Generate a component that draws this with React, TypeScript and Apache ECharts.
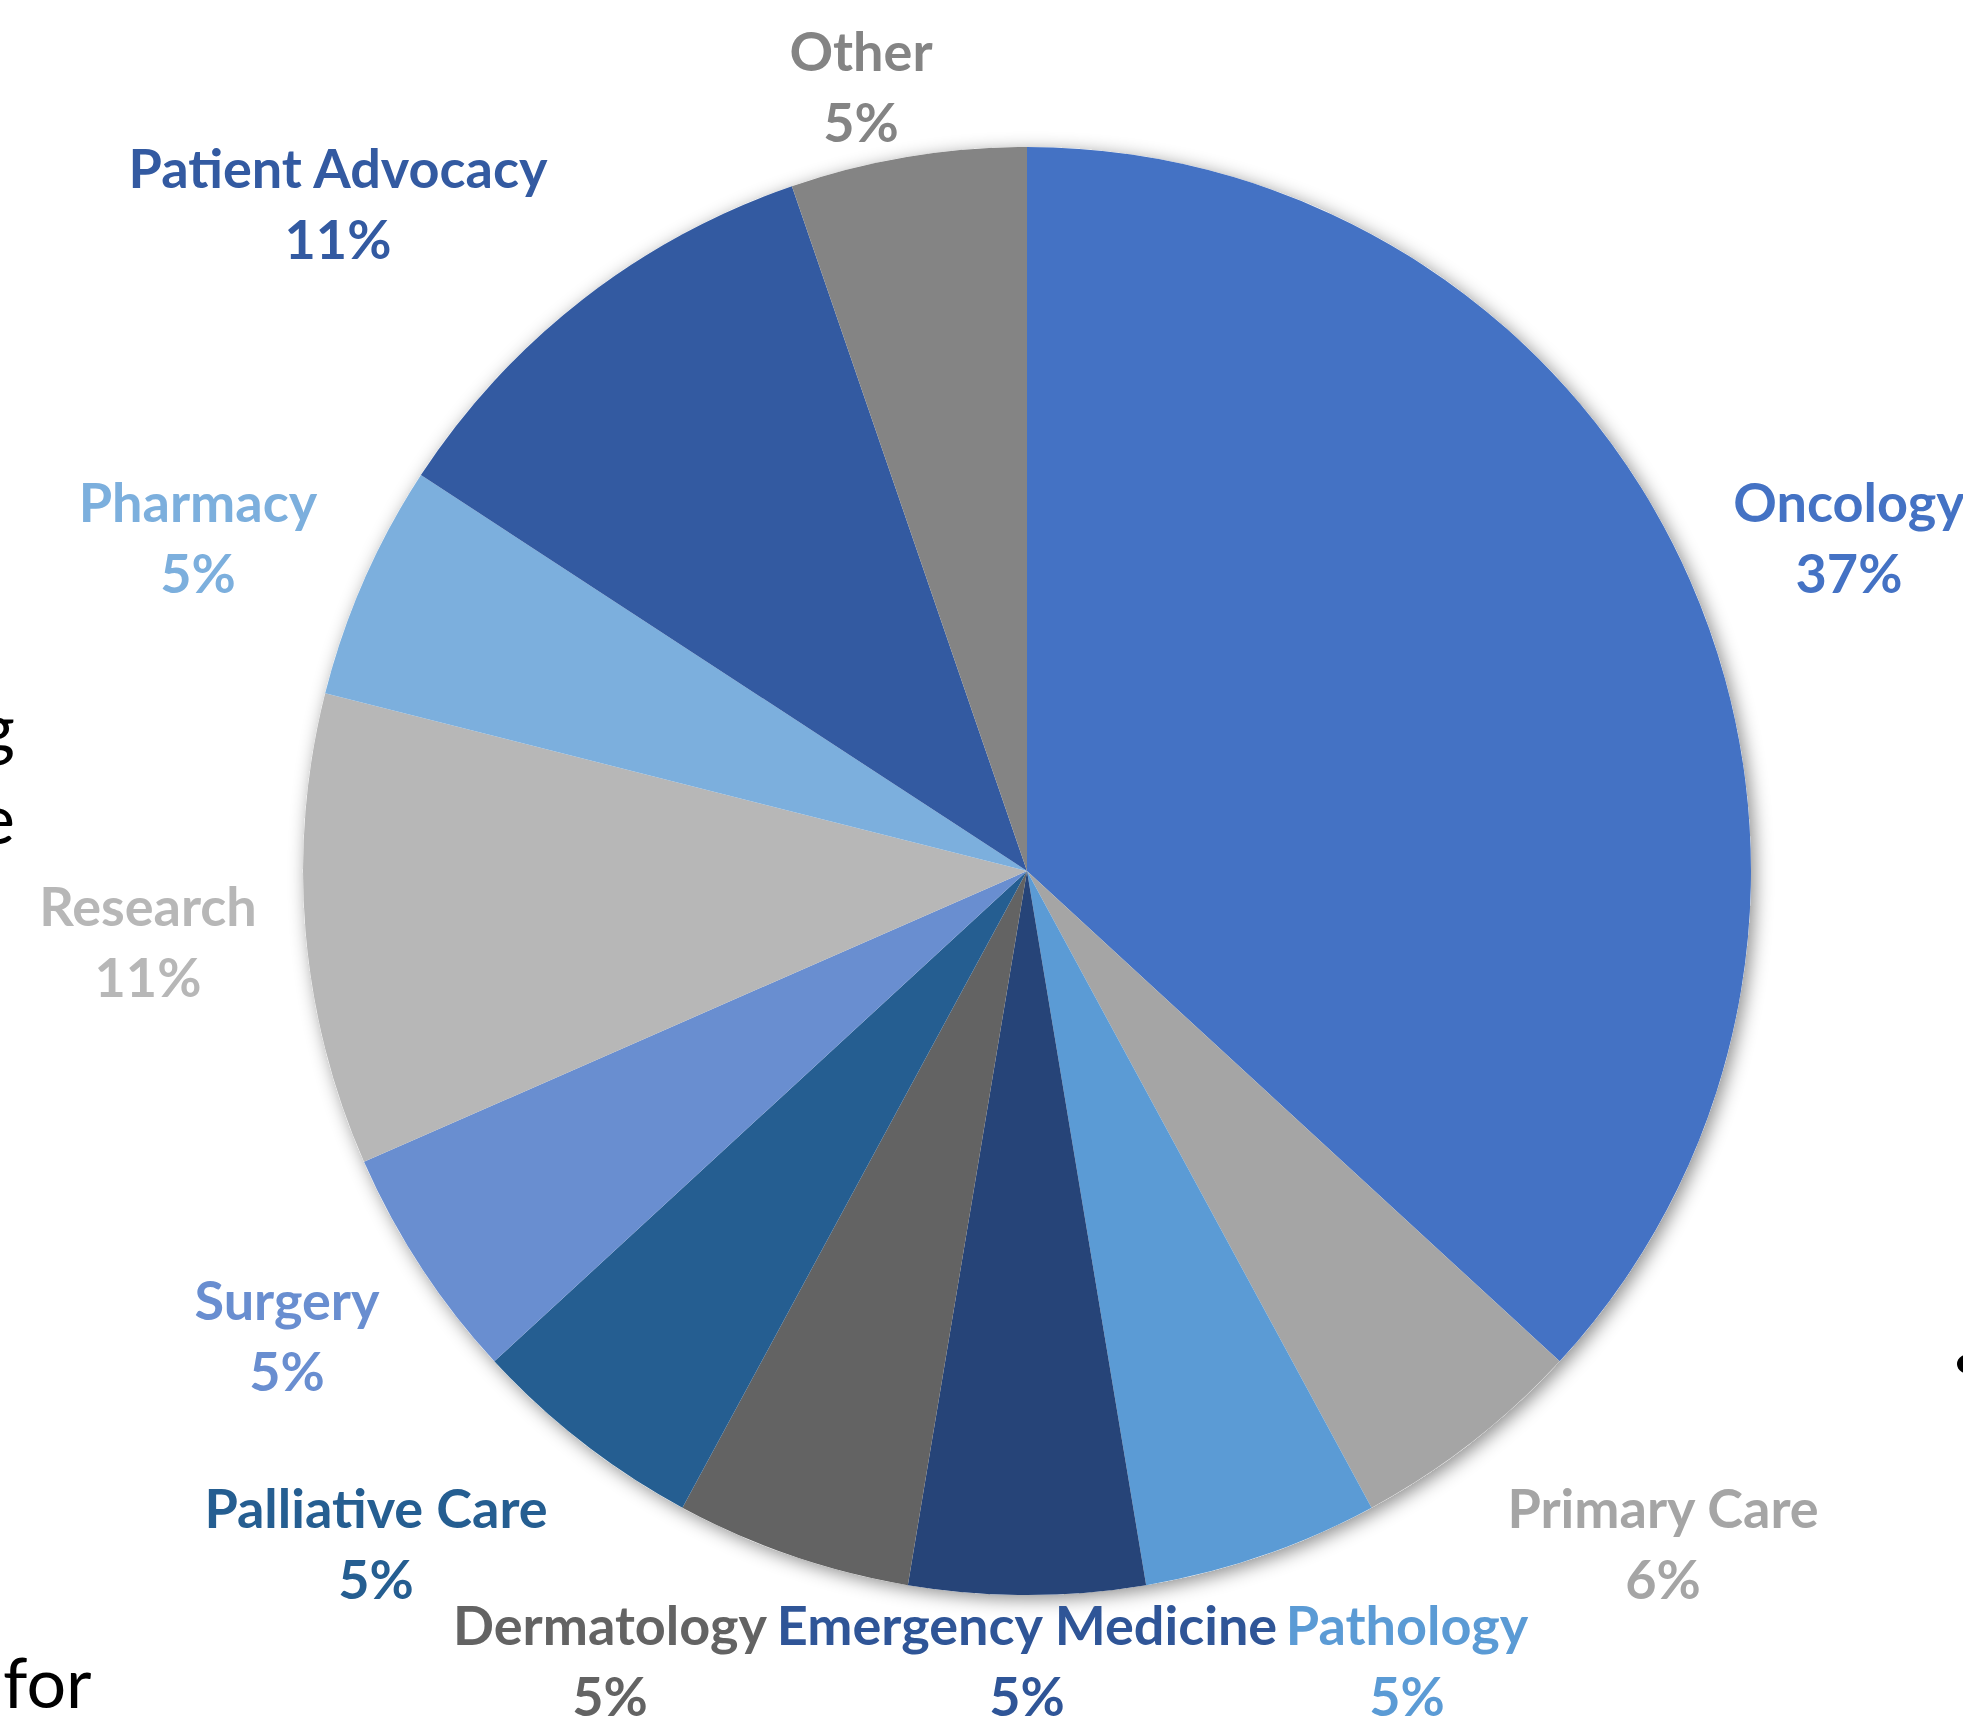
import React, { useEffect, useRef } from 'react';
import * as echarts from 'echarts';

// ---- Data ----
const categories = [
  'Oncology',
  'Primary Care',
  'Pathology',
  'Emergency Medicine',
  'Dermatology',
  'Palliative Care',
  'Surgery',
  'Research',
  'Pharmacy',
  'Patient Advocacy',
  'Other',
];
// slice sizes (respondent counts)
const counts = [7, 1, 1, 1, 1, 1, 1, 2, 1, 2, 1];
// percentages as printed on the chart labels
const percentLabels = [37, 6, 5, 5, 5, 5, 5, 11, 5, 11, 5];

// ---- Styles / layout ----
const colors = [
  '#4472C4',
  '#A5A5A5',
  '#5B9BD5',
  '#264478',
  '#636363',
  '#255E91',
  '#698ED0',
  '#B7B7B7',
  '#7CAFDD',
  '#335AA1',
  '#848484',
];
const labelColors = [
  '#4472C4',
  '#A5A5A5',
  '#5B9BD5',
  '#2F5597',
  '#636363',
  '#255E91',
  '#698ED0',
  '#B7B7B7',
  '#7CAFDD',
  '#335AA1',
  '#848484',
];

const CENTER: [number, number] = [1027, 871];
const RADIUS = 724;
// label block centre, relative to pie centre
const labelOffsets: [number, number][] = [
  [822, -334],
  [636, 672],
  [380, 789],
  [0, 789],
  [-417, 789],
  [-651, 672],
  [-740, 464],
  [-879, 70],
  [-829, -334],
  [-689, -668],
  [-166, -785],
];

export default function App() {
  const ref = useRef<HTMLDivElement>(null);
  useEffect(() => {
    document.body.style.margin = '0';
    document.body.style.overflow = 'hidden';
    const chart = echarts.init(ref.current!, null, { renderer: 'svg' });
    chart.setOption({
      animation: false,
      backgroundColor: '#ffffff',
      series: [
        {
          type: 'pie',
          silent: true,
          center: CENTER,
          radius: RADIUS,
          z: 1,
          label: { show: false },
          labelLine: { show: false },
          emphasis: { disabled: true },
          data: [
            {
              value: 1,
              itemStyle: {
                color: '#ffffff',
                shadowBlur: 18,
                shadowColor: 'rgba(0,0,0,0.45)',
                shadowOffsetX: 4,
                shadowOffsetY: 4,
              },
            },
          ],
        },
        {
          type: 'pie',
          center: CENTER,
          radius: RADIUS,
          z: 2,
          startAngle: 90,
          clockwise: true,
          avoidLabelOverlap: false,
          emphasis: { disabled: true },
          itemStyle: { borderWidth: 0 },
          data: categories.map((name, i) => ({
            name,
            value: counts[i],
            itemStyle: { color: colors[i] },
            label: { color: labelColors[i] },
          })),
          label: {
            show: true,
            position: 'outside',
            formatter: (p: any) => `${p.name}\n${percentLabels[p.dataIndex]}%`,
            fontFamily: 'Lato',
            fontWeight: 'bold',
            fontSize: 54,
            lineHeight: 71,
            align: 'center',
          },
          labelLine: { show: false },
          labelLayout: (p: any) => ({
            x: CENTER[0] + labelOffsets[p.dataIndex][0],
            y: CENTER[1] + labelOffsets[p.dataIndex][1],
            align: 'center',
            verticalAlign: 'middle',
          }),
        },
      ],
      graphic: [
        {
          type: 'text',
          silent: true,
          style: { text: 'g', x: 15, y: 726, align: 'right', verticalAlign: 'middle', fontFamily: 'Lato', fontSize: 70, fill: '#000000' },
        },
        {
          type: 'text',
          silent: true,
          style: { text: 'e', x: 15, y: 817, align: 'right', verticalAlign: 'middle', fontFamily: 'Lato', fontSize: 70, fill: '#000000' },
        },
        {
          type: 'text',
          silent: true,
          style: { text: 'for', x: 3, y: 1681, align: 'left', verticalAlign: 'middle', fontFamily: 'Lato', fontSize: 70, fill: '#000000' },
        },
        {
          type: 'circle',
          silent: true,
          shape: { cx: 1966, cy: 1364, r: 9 },
          style: { fill: '#000000' },
        },
      ],
    });
    return () => chart.dispose();
  }, []);
  return <div ref={ref} style={{ width: 1963, height: 1718 }} />;
}
